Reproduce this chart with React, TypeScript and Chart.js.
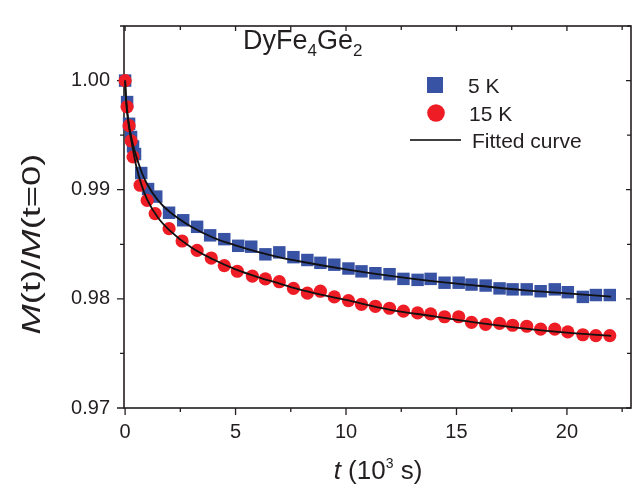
import React, { useEffect, useRef } from "react";
import { Chart, registerables } from "chart.js";

Chart.register(...registerables);

// ---- data (t in 10^3 s, M(t)/M(t=0)) ----
const t5K = [0.0, 0.09, 0.18, 0.27, 0.36, 0.45, 0.73, 1.04, 1.41, 1.99, 2.63, 3.26, 3.85, 4.49, 5.12, 5.71, 6.35, 6.98, 7.62, 8.25, 8.84, 9.47, 10.11, 10.7, 11.33, 11.97, 12.6, 13.24, 13.83, 14.46, 15.1, 15.68, 16.32, 16.95, 17.54, 18.18, 18.81, 19.45, 20.04, 20.72, 21.31, 21.94];
const m5K = [1.0, 0.99803, 0.99604, 0.99483, 0.99396, 0.99327, 0.99153, 0.99006, 0.98937, 0.98789, 0.9872, 0.9866, 0.98582, 0.98547, 0.98486, 0.98478, 0.98408, 0.98426, 0.98382, 0.98356, 0.9833, 0.98313, 0.98278, 0.98252, 0.98235, 0.98226, 0.98183, 0.98174, 0.98183, 0.98148, 0.98148, 0.98131, 0.98122, 0.98096, 0.98087, 0.98087, 0.9807, 0.98087, 0.98061, 0.98018, 0.98035, 0.98035];

const t15K = [0.0, 0.09, 0.18, 0.27, 0.36, 0.68, 1.0, 1.36, 1.99, 2.58, 3.26, 3.9, 4.49, 5.08, 5.76, 6.35, 6.98, 7.62, 8.25, 8.84, 9.47, 10.11, 10.7, 11.33, 11.97, 12.6, 13.24, 13.83, 14.46, 15.1, 15.68, 16.32, 16.95, 17.54, 18.18, 18.81, 19.45, 20.04, 20.72, 21.31, 21.94];
const m15K = [1.0, 0.9976, 0.99587, 0.99448, 0.99301, 0.99041, 0.98902, 0.98781, 0.98643, 0.9853, 0.98444, 0.98374, 0.98305, 0.98253, 0.98209, 0.98183, 0.98157, 0.98096, 0.98053, 0.9807, 0.98018, 0.97984, 0.97949, 0.97932, 0.97914, 0.97888, 0.97871, 0.97862, 0.97836, 0.97836, 0.97784, 0.97767, 0.97775, 0.97758, 0.97749, 0.97723, 0.97723, 0.97697, 0.97671, 0.97663, 0.97663];

const tFit = [0, 0.05, 0.15, 0.3, 0.5, 0.75, 1, 1.5, 2, 3, 4, 5, 6, 7, 8, 10, 12, 14, 16, 18, 20, 22];
const fit5K = [1.0, 0.9982, 0.9963, 0.9946, 0.9931, 0.9916, 0.9905, 0.989, 0.988, 0.9866, 0.9856, 0.9849, 0.9843, 0.9838, 0.9834, 0.9827, 0.9821, 0.9816, 0.9812, 0.9808, 0.9805, 0.9802];
const fit15K = [1.0, 0.998, 0.9961, 0.9943, 0.9922, 0.9904, 0.9891, 0.9874, 0.9863, 0.9847, 0.9836, 0.9827, 0.982, 0.9814, 0.9808, 0.9799, 0.979, 0.9784, 0.9778, 0.9773, 0.9769, 0.9766];

const xMajorTicks = [0, 5, 10, 15, 20];
const xMinorTicks = [2.5, 7.5, 12.5, 17.5, 22.5];
const yMajorTicks = [0.97, 0.98, 0.99, 1.0];
const yMinorTicks = [0.975, 0.985, 0.995, 1.005];

const legendLabels = ["5 K", "15 K", "Fitted curve"];
const compound = ["DyFe", "4", "Ge", "2"];

const BLUE = "#3953a4";
const RED = "#ee1d25";
const INK = "#231f20";
const FONT = '"Liberation Sans", Arial, sans-serif';

const pts = (xs: number[], ys: number[]) => xs.map((x, i) => ({ x, y: ys[i] }));

const decor = {
  id: "decor",
  beforeDatasetsDraw(chart: any) {
    const { ctx, chartArea: a, scales } = chart;
    const xs = scales.x;
    const ys = scales.y;
    ctx.save();
    ctx.strokeStyle = INK;
    ctx.lineWidth = 1.6;
    ctx.strokeRect(a.left, a.top, a.right - a.left, a.bottom - a.top);
    ctx.lineWidth = 1.3;
    ctx.beginPath();
    const xt = (v: number, outLen: number, inLen: number) => {
      const p = xs.getPixelForValue(v);
      if (p < a.left - 1 || p > a.right + 1) return;
      ctx.moveTo(p, a.bottom);
      ctx.lineTo(p, a.bottom + outLen);
      ctx.moveTo(p, a.top);
      ctx.lineTo(p, a.top + inLen);
    };
    const yt = (v: number, outLen: number, inLen: number) => {
      const p = ys.getPixelForValue(v);
      if (p < a.top - 1 || p > a.bottom + 1) return;
      ctx.moveTo(a.left, p);
      ctx.lineTo(a.left - outLen, p);
      ctx.moveTo(a.right, p);
      ctx.lineTo(a.right - inLen, p);
    };
    xMajorTicks.forEach((v) => xt(v, 7, 5));
    xMinorTicks.forEach((v) => xt(v, 4, 4));
    yMajorTicks.forEach((v) => yt(v, 7, 5));
    yMinorTicks.forEach((v) => yt(v, 4, 4));
    ctx.stroke();
    ctx.restore();
  },
  afterDraw(chart: any) {
    const { ctx } = chart;
    ctx.save();
    ctx.fillStyle = INK;
    ctx.textBaseline = "alphabetic";

    // compound label
    let x = 243;
    const big = `27px ${FONT}`;
    const sub = `17px ${FONT}`;
    compound.forEach((s, i) => {
      ctx.font = i % 2 === 0 ? big : sub;
      ctx.fillText(s, x, i % 2 === 0 ? 49 : 56);
      x += ctx.measureText(s).width;
    });

    // legend
    ctx.fillStyle = BLUE;
    ctx.fillRect(427, 77, 16, 16);
    ctx.fillStyle = RED;
    ctx.beginPath();
    ctx.arc(436, 113, 8.8, 0, Math.PI * 2);
    ctx.fill();
    ctx.strokeStyle = "#000";
    ctx.lineWidth = 1.6;
    ctx.beginPath();
    ctx.moveTo(410, 140);
    ctx.lineTo(461, 140);
    ctx.stroke();
    ctx.fillStyle = INK;
    ctx.font = `21px ${FONT}`;
    ctx.fillText(legendLabels[0], 468, 93);
    ctx.fillText(legendLabels[1], 469, 121);
    ctx.fillText(legendLabels[2], 472, 148);

    // x title: t (10^3 s)
    const parts: [string, string, number][] = [
      ["t", `italic 26px ${FONT}`, 0],
      [" (10", `26px ${FONT}`, 0],
      ["3", `14px ${FONT}`, -11],
      [" s)", `26px ${FONT}`, 0],
    ];
    let total = 0;
    parts.forEach(([s, f]) => {
      ctx.font = f;
      total += ctx.measureText(s).width;
    });
    let px = 378 - total / 2;
    parts.forEach(([s, f, dy]) => {
      ctx.font = f;
      ctx.fillText(s, px, 479 + dy);
      px += ctx.measureText(s).width;
    });

    // y title: M(t)/M(t=0)
    ctx.translate(40, 244);
    ctx.rotate(-Math.PI / 2);
    ctx.scale(1.4, 1);
    const yparts: [string, string][] = [
      ["M", `italic 26px ${FONT}`],
      ["(t)/", `26px ${FONT}`],
      ["M", `italic 26px ${FONT}`],
      ["(t=0)", `26px ${FONT}`],
    ];
    let yt = 0;
    yparts.forEach(([s, f]) => {
      ctx.font = f;
      yt += ctx.measureText(s).width;
    });
    let py = -yt / 2;
    yparts.forEach(([s, f]) => {
      ctx.font = f;
      ctx.fillText(s, py, 0);
      py += ctx.measureText(s).width;
    });
    ctx.restore();
  },
};

export default function App() {
  const ref = useRef<HTMLCanvasElement | null>(null);
  useEffect(() => {
    document.body.style.margin = "0";
    const canvas = ref.current;
    if (!canvas) return;
    const chart = new Chart(canvas, {
      type: "line",
      data: {
        datasets: [
          {
            label: "fit5K",
            data: pts(tFit, fit5K),
            borderColor: "#111",
            borderWidth: 1.8,
            pointRadius: 0,
            cubicInterpolationMode: "monotone",
            fill: false,
            clip: false,
          } as any,
          {
            label: "fit15K",
            data: pts(tFit, fit15K),
            borderColor: "#111",
            borderWidth: 1.8,
            pointRadius: 0,
            cubicInterpolationMode: "monotone",
            fill: false,
            clip: false,
          },
          {
            label: "15 K",
            data: pts(t15K, m15K),
            showLine: false,
            pointStyle: "circle",
            pointRadius: 6.6,
            pointBackgroundColor: RED,
            pointBorderWidth: 0,
            borderColor: RED,
            clip: false,
          },
          {
            label: "5 K",
            data: pts(t5K, m5K),
            showLine: false,
            pointStyle: "rect",
            pointRadius: 8.8,
            pointBackgroundColor: BLUE,
            pointBorderWidth: 0,
            borderColor: BLUE,
            clip: false,
          },
        ],
      },
      options: {
        responsive: false,
        animation: false,
        events: [],
        layout: { padding: { top: 5, right: 9, left: 0, bottom: 0 } },
        plugins: { legend: { display: false }, tooltip: { enabled: false } },
        scales: {
          x: {
            type: "linear",
            min: -0.05,
            max: 22.9,
            border: { display: false },
            grid: { display: false, drawTicks: false },
            ticks: {
              stepSize: 5,
              includeBounds: false,
              padding: 12,
              color: INK,
              font: { family: FONT, size: 20 },
              callback: (v: any) => String(Math.round(Number(v))),
            },
            afterFit: (s: any) => {
              s.height = 88;
            },
          },
          y: {
            type: "linear",
            min: 0.97,
            max: 1.005,
            border: { display: false },
            grid: { display: false, drawTicks: false },
            ticks: {
              stepSize: 0.01,
              includeBounds: false,
              padding: 14,
              color: INK,
              font: { family: FONT, size: 20 },
              callback: (v: any) => Number(v).toFixed(2),
            },
            afterFit: (s: any) => {
              s.width = 124;
            },
          },
        },
      },
      plugins: [decor],
    });
    return () => chart.destroy();
  }, []);
  return (
    <div style={{ width: 640, height: 496, background: "#fff" }}>
      <canvas ref={ref} width={640} height={496} style={{ display: "block" }} />
    </div>
  );
}
